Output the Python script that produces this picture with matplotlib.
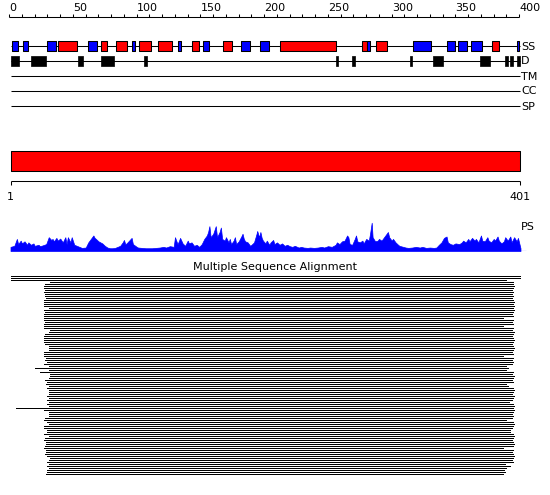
import matplotlib
matplotlib.use("Agg")
import matplotlib.pyplot as plt
import numpy as np

plt.rcParams['font.family'] = ['DejaVu Sans']

# ---------------- data ----------------
seq_len = 401
axis_ticks_major = [0, 50, 100, 150, 200, 250, 300, 350, 400]
axis_ticks_minor = list(range(0, 401, 10))

# secondary structure (start, end, type) H=helix(red) E=strand(blue)
ss_start = [2, 11, 30, 38, 62, 72, 84, 96, 102, 117, 132, 143, 152, 168, 182, 197,
            212, 277, 281, 288, 317, 343, 352, 362, 379, 398]
ss_end = [7, 15, 37, 53, 69, 77, 92, 99, 111, 128, 135, 149, 157, 175, 189, 204,
          256, 281, 283, 296, 331, 350, 359, 371, 384, 400]
ss_type = ['E', 'E', 'E', 'H', 'E', 'H', 'H', 'E', 'H', 'H', 'E', 'H', 'E', 'H', 'E', 'E',
           'H', 'H', 'E', 'H', 'E', 'E', 'E', 'E', 'H', 'E']

# disorder
dis_start = [1, 17, 54, 72, 106, 256, 269, 314, 332, 369, 389, 393, 398]
dis_end = [8, 29, 58, 82, 108, 258, 271, 316, 340, 377, 391, 395, 401]

track_labels = ['SS', 'D', 'TM', 'CC', 'SP']

domain_start = 1
domain_end = 401

# PS profile (residue, score)
ps_pos = [1, 4, 6, 7, 9, 10, 12, 14, 15, 17, 19, 20, 23, 24, 26, 29, 30, 31, 33, 34,
          35, 37, 38, 40, 42, 44, 45, 46, 48, 49, 51, 53, 55, 57, 60, 62, 64, 66, 67, 68,
          70, 73, 75, 77, 79, 81, 83, 85, 87, 89, 90, 91, 92, 94, 96, 97, 100, 101, 104, 107,
          110, 112, 115, 118, 121, 123, 126, 129, 130, 132, 133, 134, 136, 138, 140, 141, 143, 145, 147, 149,
          151, 153, 155, 156, 157, 158, 160, 162, 163, 165, 166, 167, 169, 170, 172, 173, 174, 176, 177, 178,
          180, 182, 183, 184, 185, 187, 189, 190, 192, 194, 194.5, 196, 197, 198, 199, 201, 202, 204, 205, 207,
          208, 210, 212, 214, 216, 218, 220, 222, 224, 227, 229, 231, 234, 236, 239, 242, 245, 247, 250, 253,
          256, 257, 259, 261, 263, 265, 266, 267, 269, 271, 272, 273, 275, 277, 278, 280, 282, 283, 284.3, 285,
          287, 289, 290, 292, 294, 295, 297, 298, 300, 301, 303, 305, 306, 309, 311, 313, 316, 319, 322, 324,
          327, 330, 333, 335, 337, 339, 341, 343, 344, 346, 348, 350, 353, 355, 356, 358, 360, 361, 363, 365,
          366, 368, 370, 371, 373, 375, 376, 378, 380, 381, 383, 384, 386, 388, 389, 391, 393, 394, 396, 398,
          399, 401]
ps_val = [12, 15, 35, 20, 30, 22, 28, 18, 25, 18, 22, 15, 18, 14, 16, 20, 30, 40, 32, 35,
          28, 38, 30, 36, 25, 40, 20, 40, 25, 40, 18, 15, 12, 9, 10, 25, 35, 45, 38, 35,
          28, 22, 15, 10, 8, 8, 9, 12, 15, 25, 32, 20, 22, 30, 38, 20, 12, 10, 9, 8,
          8, 8, 9, 10, 12, 10, 14, 12, 40, 20, 28, 38, 22, 15, 30, 22, 25, 15, 18, 12,
          20, 35, 45, 55, 72, 40, 50, 72, 40, 55, 68, 35, 30, 40, 25, 35, 20, 30, 40, 20,
          28, 42, 50, 35, 28, 25, 15, 18, 25, 50, 58, 40, 55, 38, 30, 22, 30, 18, 25, 32,
          20, 25, 18, 22, 15, 18, 14, 12, 15, 10, 12, 10, 9, 10, 9, 10, 12, 10, 14, 12,
          18, 25, 20, 28, 30, 45, 40, 20, 18, 35, 45, 28, 25, 30, 22, 35, 30, 50, 82, 40,
          28, 30, 35, 30, 40, 45, 55, 40, 30, 35, 25, 18, 15, 12, 10, 9, 10, 12, 10, 12,
          9, 10, 9, 10, 18, 25, 38, 42, 25, 20, 18, 22, 20, 25, 30, 25, 35, 28, 38, 30,
          35, 25, 45, 30, 28, 40, 30, 25, 35, 30, 42, 30, 22, 28, 40, 30, 42, 25, 40, 28,
          38, 8]

# multiple sequence alignment rows (start, end residues)
msa_start = [1, 1, 1, 32, 28, 27, 27, 28, 27, 28, 28, 29, 27, 27,
             27, 27, 31, 27, 28, 27, 27, 27, 27, 28, 27, 27, 27, 32,
             31, 28, 27, 27, 27, 27, 28, 31, 31, 31, 27, 27, 27, 29,
             28, 30, 27, 31, 20, 31, 24, 32, 32, 31, 28, 30, 29, 31,
             30, 31, 31, 31, 30, 31, 30, 31, 30, 31, 5, 27, 31, 31,
             31, 28, 27, 30, 31, 27, 27, 30, 30, 27, 31, 28, 27, 29,
             29, 28, 27, 29, 29, 28, 30, 32, 31, 30, 31, 30, 31, 30,
             30, 29]
msa_end = [401, 401, 390, 395, 395, 396, 395, 394, 395, 394, 395, 394, 395, 396,
           395, 396, 395, 396, 395, 394, 395, 387, 395, 394, 395, 387, 395, 394,
           396, 395, 394, 395, 396, 395, 394, 395, 396, 395, 394, 395, 387, 395,
           394, 395, 394, 390, 391, 390, 395, 394, 396, 395, 394, 395, 390, 391,
           395, 396, 395, 394, 396, 395, 394, 392, 395, 396, 395, 396, 395, 394,
           395, 394, 390, 395, 396, 395, 394, 393, 393, 395, 396, 395, 394, 395,
           396, 395, 387, 395, 394, 395, 396, 395, 394, 395, 389, 393, 390, 388,
           389, 387]

# ---------------- drawing ----------------
W, H = 550, 495
PXR = 1.275          # pixels per residue
X0 = 10.5            # pixel of residue 1


def r_at(px):
    return 1 + (px - X0) / PXR


XL, XR = r_at(0), r_at(W)

fig = plt.figure(figsize=(W / 100, H / 100), dpi=100)
fig.patch.set_facecolor('white')
ax = fig.add_axes([0, 0, 1, 1])
ax.set_xlim(XL, XR)
ax.set_ylim(H, 0)
ax.axis('off')

FS = 8
lw1 = 0.75

# top ruler
ax.hlines(16.5, axis_ticks_minor[0], axis_ticks_minor[-1], color='black', lw=lw1)
ax.vlines(axis_ticks_minor, 13.5, 16.5, color='black', lw=lw1)
for t in axis_ticks_major:
    ax.text(t, 11, str(t), ha='left', va='baseline', fontsize=FS)

# tracks
track_y = [45.5, 60.5, 75.5, 90.5, 105.5]
for y, lab in zip(track_y, track_labels):
    ax.hlines(y, domain_start, domain_end, color='black', lw=lw1)
    ax.text(domain_end + 0.4, y, lab, ha='left', va='center_baseline', fontsize=FS)

ss_col = {'H': '#ff0000', 'E': '#0000ff'}
ax.broken_barh([(s, e - s) for s, e in zip(ss_start, ss_end)], (40.5, 10),
               facecolors=[ss_col[t] for t in ss_type], edgecolors='black', linewidth=lw1,
               zorder=3)
ax.broken_barh([(s, e - s) for s, e in zip(dis_start, dis_end)], (55.5, 10),
               facecolors='black', edgecolors='black', linewidth=0.5, zorder=3)

# domain bar
ax.broken_barh([(domain_start, domain_end - domain_start)], (150.5, 20),
               facecolors='#ff0000', edgecolors='black', linewidth=lw1)
ax.hlines(180.5, domain_start, domain_end, color='black', lw=lw1)
ax.vlines([domain_start, domain_end], 180.5, 184.5, color='black', lw=lw1)
ax.text(domain_start, 196, str(domain_start), ha='center', va='center_baseline', fontsize=FS)
ax.text(domain_end, 196, str(domain_end), ha='center', va='center_baseline', fontsize=FS)

# PS
ax.text(domain_end + 0.4, 226, 'PS', ha='left', va='center_baseline', fontsize=FS)
ps_bot, ps_top = 251, 222
ax2 = fig.add_axes([0, 1 - ps_bot / H, 1, (ps_bot - ps_top) / H])
ax2.set_xlim(XL, XR)
ax2.set_ylim(0, 84)
ax2.axis('off')
ax2.fill_between(ps_pos, 0, ps_val, color='#0000ff', lw=0.5, edgecolor='#0000ff')
ax2.hlines(0.6, domain_start, domain_end + 4, color='#0000ff', lw=0.8)

# MSA
ax.text((XL + XR) / 2, 266, 'Multiple Sequence Alignment', ha='center', va='center_baseline',
        fontsize=FS)
rows = np.arange(len(msa_start))
ax.hlines(275.5 + 2 * rows, msa_start, msa_end, color='black', lw=0.72, antialiased=False)

fig.savefig('out.png', dpi=100, facecolor='white')
